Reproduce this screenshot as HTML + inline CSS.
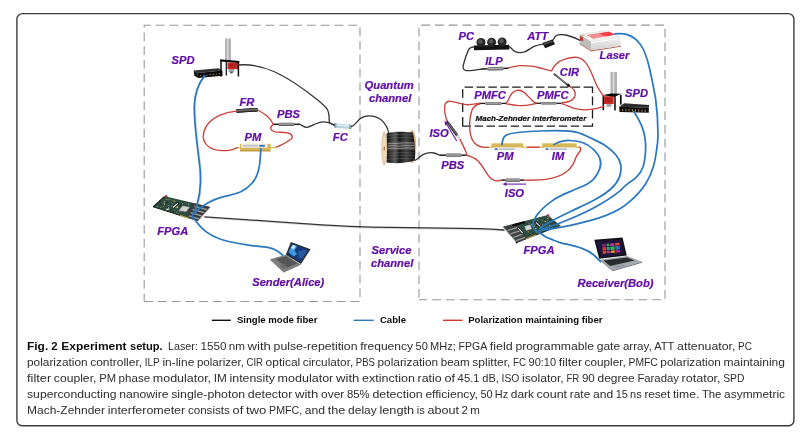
<!DOCTYPE html>
<html>
<head>
<meta charset="utf-8">
<title>Fig. 2 Experiment setup</title>
<style>
html,body{margin:0;padding:0;background:#fff;}
body{width:800px;height:434px;overflow:hidden;font-family:"Liberation Sans",sans-serif;}
svg{will-change:transform;display:block;position:absolute;left:0;top:0;}
.lab{font-family:"Liberation Sans",sans-serif;font-weight:bold;font-style:italic;font-size:11.2px;fill:#610fa5;stroke:#610fa5;stroke-width:0.2px;}
.mz{font-family:"Liberation Sans",sans-serif;font-weight:bold;font-style:italic;font-size:7.98px;fill:#0c0c0c;stroke:#0c0c0c;stroke-width:0.22px;}
.leg{font-family:"Liberation Sans",sans-serif;font-weight:bold;font-size:9.6px;fill:#0d0d0d;}
.cap{font-family:"Liberation Sans",sans-serif;font-size:11.6px;fill:#2e2e2e;}
.capb{font-weight:bold;fill:#0d0d0d;}
.blue{fill:none;stroke:#2b78bf;stroke-width:1.75;stroke-linecap:round;stroke-linejoin:round;}
.red{fill:none;stroke:#c9423c;stroke-width:1.35;stroke-linecap:round;stroke-linejoin:round;}
.blk{fill:none;stroke:#333;stroke-width:1.3;stroke-linecap:round;stroke-linejoin:round;}
.shadow{fill:none;stroke:#9a9a9a;stroke-opacity:0.35;stroke-width:1.3;stroke-linecap:round;}
.gdash{fill:none;stroke:#858585;stroke-width:1.2;stroke-dasharray:7.6 3.9;}
.bdash{fill:none;stroke:#222;stroke-width:1.2;stroke-dasharray:7.6 3.4;}
</style>
</head>
<body>
<svg width="800" height="434" viewBox="0 0 800 434">
<defs>
  <linearGradient id="tube" x1="0" x2="1" y1="0" y2="0">
    <stop offset="0" stop-color="#9c9c9c"/><stop offset="0.45" stop-color="#e4e4e4"/><stop offset="1" stop-color="#9a9a9a"/>
  </linearGradient>
  <linearGradient id="cyl" x1="0" x2="0" y1="0" y2="1">
    <stop offset="0" stop-color="#555"/><stop offset="0.42" stop-color="#b4b4b4"/><stop offset="1" stop-color="#444"/>
  </linearGradient>
  <linearGradient id="cylk" x1="0" x2="0" y1="0" y2="1">
    <stop offset="0" stop-color="#222"/><stop offset="0.4" stop-color="#777"/><stop offset="1" stop-color="#111"/>
  </linearGradient>
  <linearGradient id="spoolg" x1="0" x2="1" y1="0" y2="0">
    <stop offset="0" stop-color="#111"/><stop offset="0.3" stop-color="#5a5a5a"/><stop offset="0.45" stop-color="#1a1a1a"/><stop offset="0.7" stop-color="#444"/><stop offset="1" stop-color="#0c0c0c"/>
  </linearGradient>
  <linearGradient id="lasf" x1="0" x2="0" y1="0" y2="1"><stop offset="0" stop-color="#f4f4f4"/><stop offset="1" stop-color="#cfcfcf"/></linearGradient>
</defs>

<!-- outer frame -->
<rect x="16.9" y="13.65" width="777" height="412.15" rx="5.6" ry="5.6" fill="#fff" stroke="#3c3c3c" stroke-width="1.4"/>

<!-- dashed boxes -->
<path d="M144.2,301.5 V25.3 H360 V301.5 H144.2" fill="none" stroke="#979797" stroke-width="1.08" stroke-dasharray="8.75 5" stroke-dashoffset="1"/>
<path d="M419,299.8 V25.1 H665 V299.8 H419" fill="none" stroke="#979797" stroke-width="1.08" stroke-dasharray="8.75 5" stroke-dashoffset="11.8"/>
<path d="M464.6,87.2 H473.1 M476.5,87.2 H485.0 M488.4,87.2 H496.9 M500.3,87.2 H508.8 M512.2,87.2 H520.7 M524.1,87.2 H532.6 M536.0,87.2 H544.5 M547.9,87.2 H556.4 M559.8,87.2 H568.3 M571.7,87.2 H580.2 M583.6,87.2 H592.1 M462.6,126.15 H471.0 M474.6,126.15 H483.0 M486.6,126.15 H495.0 M498.7,126.15 H507.1 M510.7,126.15 H519.1 M522.7,126.15 H531.1 M534.7,126.15 H543.1 M546.7,126.15 H555.1 M558.8,126.15 H567.2 M570.8,126.15 H579.2 M582.8,126.15 H592.5 M462.7,89.3 V97.8 M462.7,103.1 V112.1 M462.7,116.9 V126.8 M592.5,86.6 V92.9 M592.5,96.6 V105.2 M592.5,109.2 V118.4 M592.5,123.2 V126.8" fill="none" stroke="#1d1d1d" stroke-width="1.3"/>

<g id="devices">
<!-- Alice SPD + cryostat -->
<polygon points="193.6,70.6 218.4,68.3 222.4,70.4 197.6,73.0" fill="#303030"/>
<polygon points="193.6,70.6 197.6,73.0 198.1,78.1 194.4,75.7" fill="#141414"/>
<polygon points="197.6,73.0 222.4,70.4 222.6,75.7 198.1,78.1" fill="#0b0b0b"/>
<circle cx="200.8" cy="75.6" r="0.6" fill="#c8a04a"/>
<circle cx="203.9" cy="75.3" r="0.6" fill="#c8a04a"/>
<circle cx="207.0" cy="75.0" r="0.6" fill="#c8a04a"/>
<circle cx="210.1" cy="74.7" r="0.6" fill="#c8a04a"/>
<circle cx="213.2" cy="74.4" r="0.6" fill="#c8a04a"/>
<circle cx="216.3" cy="74.0" r="0.6" fill="#c8a04a"/>
<circle cx="219.4" cy="73.7" r="0.6" fill="#c8a04a"/>
<rect x="225.1" y="38.4" width="5.7" height="22" fill="url(#tube)"/>
<path d="M226.9,39 V59.6 M229.1,39 V59.6" stroke="#9a9a9a" stroke-width="0.4"/>
<path d="M226.3,61 V75.4" stroke="#0a0a0a" stroke-width="1.2"/>
<rect x="228.6" y="69" width="5.6" height="3.3" fill="#a9a9a9"/>
<rect x="230.2" y="71.6" width="2.4" height="1.8" fill="#555"/>
<rect x="227.5" y="62.5" width="10.5" height="6.7" fill="#cb2926"/>
<path d="M229.6,64.3 H236 M229.6,65.7 H236 M229.6,67.1 H236" stroke="#7e1614" stroke-width="0.55"/>
<polygon points="220.2,59.3 239.3,61.1 239.3,63 220.2,61.5" fill="#0a0a0a"/>
<path d="M221,60.6 V76.6 M238.4,62.4 V76.6" stroke="#0a0a0a" stroke-width="1.5"/>
<!-- FR / PBS / PM / FC (Alice) -->
<g transform="rotate(-3.40 247.0 110.3)"><rect x="236.3" y="108.55" width="21.4" height="3.50" fill="#222"/><rect x="236.3" y="108.55" width="21.4" height="3.50" rx="0.8" fill="url(#cylk)"/></g>
<g><rect x="273.0" y="123.55" width="26.9" height="1.50" fill="#1c1c1c"/><rect x="278.7" y="122.65" width="15.5" height="3.30" rx="0.8" fill="url(#cyl)"/></g>
<rect x="237.3" y="147.0" width="3.7" height="1.3" fill="#dcc24a"/>
<rect x="269.6" y="147.0" width="6.6" height="1.3" fill="#dcc24a"/>
<rect x="240.0" y="143.9" width="30.6" height="7.4" fill="#d6b458"/>
<rect x="241.0" y="144.2" width="26.4" height="3.5" fill="#f3f3ef"/>
<rect x="242.6" y="145.4" width="15.9" height="1.0" fill="#97a2bd"/>
<rect x="259.3" y="144.9" width="5.6" height="1.9" fill="#3f76c8"/>
<rect x="240.0" y="150.4" width="30.6" height="0.9" fill="#b8903a"/>
<g transform="rotate(5.2 342.8 126.2)"><rect x="334" y="124" width="17.6" height="4.4" rx="0.8" fill="#b7d1e0"/><rect x="334" y="124" width="2.4" height="4.4" fill="#8ea6b3"/><rect x="349.2" y="124" width="2.4" height="4.4" fill="#8ea6b3"/><rect x="336.6" y="124.8" width="12.4" height="1.3" fill="#e4eff5"/></g>
<g id="fpgaA">
<polygon points="164.8,196.2 210.3,207.0 197.7,221.0 153.1,206.8" fill="#2c4d3f"/>
<path d="M153.1,206.8 L187.9,217.9" stroke="#16241c" stroke-width="1.0" fill="none"/>
<rect x="171.6" y="200.7" width="1.3" height="0.7" fill="#c9b25a"/><rect x="184.1" y="203.1" width="1.3" height="0.7" fill="#55705f"/><rect x="169.6" y="199.4" width="1.0" height="0.7" fill="#8f9a92"/><rect x="163.3" y="201.7" width="1.3" height="0.7" fill="#8f9a92"/><rect x="174.7" y="206.7" width="0.8" height="0.9" fill="#c9b25a"/><rect x="188.3" y="203.6" width="0.8" height="0.9" fill="#d9d9d0"/><rect x="167.6" y="199.3" width="1.0" height="0.7" fill="#c9b25a"/><rect x="172.9" y="206.9" width="1.0" height="0.7" fill="#55705f"/><rect x="176.8" y="207.1" width="1.3" height="0.7" fill="#d9d9d0"/><rect x="177.4" y="205.6" width="1.0" height="0.9" fill="#55705f"/><rect x="183.9" y="206.5" width="0.8" height="0.7" fill="#1c2a22"/><rect x="183.2" y="202.8" width="1.0" height="0.9" fill="#101410"/><rect x="179.9" y="204.5" width="0.8" height="0.7" fill="#55705f"/><rect x="167.9" y="206.9" width="0.8" height="0.9" fill="#d9d9d0"/><rect x="159.7" y="203.5" width="1.3" height="0.9" fill="#101410"/><rect x="176.1" y="207.3" width="1.3" height="0.9" fill="#c9b25a"/><rect x="176.1" y="211.8" width="1.0" height="0.7" fill="#c9b25a"/><rect x="179.8" y="204.7" width="1.3" height="0.9" fill="#101410"/><rect x="173.7" y="210.3" width="1.0" height="0.7" fill="#d9d9d0"/><rect x="167.8" y="205.1" width="1.0" height="0.7" fill="#8f9a92"/><rect x="182.4" y="203.2" width="0.8" height="0.9" fill="#d9d9d0"/><rect x="182.3" y="207.8" width="0.8" height="0.9" fill="#d9d9d0"/><rect x="169.8" y="209.1" width="1.0" height="0.9" fill="#1c2a22"/><rect x="171.7" y="203.2" width="1.0" height="0.7" fill="#8f9a92"/><rect x="165.8" y="199.2" width="1.3" height="0.7" fill="#c9b25a"/><rect x="171.1" y="205.8" width="1.0" height="0.9" fill="#c9b25a"/><rect x="163.6" y="203.0" width="1.3" height="0.9" fill="#8f9a92"/><rect x="176.8" y="206.5" width="1.3" height="0.7" fill="#d9d9d0"/><rect x="179.1" y="210.5" width="1.3" height="0.9" fill="#d9d9d0"/><rect x="173.8" y="200.7" width="1.3" height="0.9" fill="#c9b25a"/><rect x="160.3" y="207.4" width="1.0" height="0.7" fill="#c9b25a"/><rect x="172.9" y="199.9" width="0.8" height="0.7" fill="#55705f"/><rect x="164.2" y="201.2" width="0.8" height="0.7" fill="#b7a04a"/><rect x="166.6" y="202.0" width="1.3" height="0.9" fill="#101410"/><rect x="175.1" y="205.5" width="0.8" height="0.9" fill="#d9d9d0"/><rect x="173.7" y="203.2" width="0.8" height="0.7" fill="#1c2a22"/><rect x="170.9" y="201.8" width="1.3" height="0.7" fill="#55705f"/><rect x="156.6" y="205.9" width="1.3" height="0.9" fill="#8f9a92"/><rect x="172.8" y="210.4" width="1.3" height="0.9" fill="#1c2a22"/><rect x="179.1" y="209.4" width="1.0" height="0.9" fill="#8f9a92"/><rect x="171.6" y="201.5" width="1.3" height="0.9" fill="#1c2a22"/><rect x="162.7" y="206.1" width="0.8" height="0.7" fill="#b7a04a"/><rect x="167.0" y="207.3" width="0.8" height="0.9" fill="#101410"/><rect x="173.0" y="211.4" width="1.0" height="0.9" fill="#101410"/><rect x="164.0" y="204.0" width="1.0" height="0.9" fill="#b7a04a"/><rect x="177.9" y="212.9" width="1.0" height="0.7" fill="#8f9a92"/>
<polygon points="190.7,202.4 210.3,207.0 197.7,221.0 188.8,218.2 187.7,211.1 192.2,205.5" fill="#3a3b3c"/>
<path d="M194.2,206.4 L207.1,209.6" stroke="#9c9fa1" stroke-width="1.3" fill="none"/>
<path d="M192.5,209.5 L204.3,212.7" stroke="#9c9fa1" stroke-width="1.3" fill="none"/>
<path d="M190.7,212.6 L201.6,215.8" stroke="#9c9fa1" stroke-width="1.3" fill="none"/>
<path d="M189.0,215.8 L198.8,218.8" stroke="#9c9fa1" stroke-width="1.3" fill="none"/>
<path d="M210.0,207.3 L198.0,220.7" stroke="#9b9b9b" stroke-width="0.9" fill="none"/>
<path d="M179.9,215.3 L188.8,218.2" stroke="#c9a74c" stroke-width="1.1" fill="none"/>
<polygon points="182.5,205.5 190.0,206.9 186.2,212.0 178.6,210.7" fill="#8c8c8c"/>
<polygon points="182.7,206.2 189.0,207.3 186.0,211.4 179.6,210.3" fill="#d4d4d4"/>
<path d="M172.2,208 L178.6,202.6" stroke="#1a1a1a" stroke-width="2.1" fill="none"/>
<path d="M172.8,207.5 L178,203.1" stroke="#ededed" stroke-width="1.1" fill="none"/>
<path d="M166.2,209.6 L169.2,208.8" stroke="#dfe6ee" stroke-width="1.2" fill="none"/>
<circle cx="166.1" cy="196.3" r="1.25" fill="#bf2140"/>
<path d="M164.2,196.7 L153.1,206.8" stroke="#111" stroke-width="1.1" fill="none"/>
</g>
<g id="lapA">
<polygon points="270.1,259.3 285.8,254.7 301.2,264.8 283.8,272.5" fill="#7f7f7f"/>
<polygon points="270.1,259.3 283.8,272.5 284.4,273.2 270.3,260.1" fill="#4c4c4c"/>
<polygon points="275.6,259.2 286,256.2 297.6,263.6 287.4,267.4" fill="#565656"/>
<polygon points="279.4,265 283.6,263.6 287.4,267.4 283,269.2" fill="#6d6d6d"/>
<polygon points="285.8,254.7 290.9,242.1 310.6,249.2 301,263.9" fill="#2c2c30"/>
<polygon points="287.4,254.2 291.7,243.8 308.8,250 300.4,262.2" fill="#163a7a"/>
<polygon points="288.6,252 292.2,244.6 297.2,246.2 294.4,250.4 297,254 293.6,256.4" fill="#3f9be0"/>
<polygon points="291,247.6 293.2,245 296,246 293.4,249.8" fill="#c4e6fb"/>
<polygon points="297.6,251.6 304,249.6 307.2,250.8 302.4,258 299,258.6" fill="#27589f"/>
</g>
<g id="spool">
<ellipse cx="412.1" cy="146.5" rx="4.2" ry="16.5" fill="#d9bb8c"/>
<ellipse cx="412.1" cy="146.5" rx="3.1" ry="15" fill="#c39b63"/>
<path d="M386.6,133.4 C392,131.6 404,131.4 412.6,132.6 C414.6,139 415.4,152 414.8,160.6 C406,163.4 394,163.8 386.6,162.6 Z" fill="url(#spoolg)"/>
<path d="M387,142.5 C396,141 406,141 414.6,142.3 L414.9,150.5 C406,149.2 396,149.4 387,151 Z" fill="#8e8e8e" fill-opacity="0.28"/>
<path d="M388,143.6 C392,142.6 396,144.4 400,143.2 C404,142.2 409,143.6 414,142.8 M388,146 C393,145 397,147 402,145.8 C406,144.8 410,146.4 414.4,145.4 M388,148.6 C392,147.6 398,149.4 403,148.2 C407,147.4 411,148.8 414.6,148" stroke="#e6e6e6" stroke-opacity="0.55" stroke-width="0.7" fill="none"/>
<path d="M387,135.6 C396,134 406,134 413.6,135 M387,138.6 C396,137.2 406,137.2 414.2,138.2 M387,153.4 C396,152.2 406,152.2 414.8,153.2 M387,156 C396,154.8 406,154.8 414.8,155.8 M387,159.4 C396,158.4 406,158.2 414.6,158.8" stroke="#8a8a8a" stroke-opacity="0.5" stroke-width="0.6" fill="none"/>
<ellipse cx="384.2" cy="148.4" rx="2.9" ry="17.1" fill="#e3c8a0"/>
<ellipse cx="384.3" cy="148.4" rx="1.7" ry="13.6" fill="#efdcbf"/>
<ellipse cx="384.3" cy="148.4" rx="0.7" ry="2.2" fill="#9c7d55"/>
</g>
<!-- PC -->
<polygon points="473.8,45.6 509.2,44.8 509.4,49.6 474,50.2" fill="#131313"/>
<circle cx="481" cy="42.5" r="4.5" fill="#262626"/><circle cx="491.6" cy="42.2" r="4.5" fill="#262626"/><circle cx="502.1" cy="41.9" r="4.5" fill="#262626"/>
<circle cx="480.4" cy="41.5" r="2.3" fill="#565656"/><circle cx="491" cy="41.2" r="2.3" fill="#565656"/><circle cx="501.5" cy="40.9" r="2.3" fill="#565656"/>
<!-- ATT -->
<polygon points="542.3,43 552.4,39.6 555,44.3 545.2,48.3" fill="#181818"/>
<polygon points="543.5,43.3 551.8,40.5 552.7,42 544.4,44.9" fill="#4a4a4a"/>
<!-- ILP -->
<g transform="rotate(-1.40 495.2 68.7)"><rect x="481.8" y="67.95" width="26.8" height="1.50" fill="#1c1c1c"/><rect x="487.2" y="67.00" width="16.2" height="3.40" rx="0.8" fill="url(#cyl)"/></g>
<!-- CIR -->
<path d="M553.8,73.8 L569.4,86.2" stroke="#454545" stroke-width="1.8" fill="none"/>
<path d="M556,75.6 L566,83.4" stroke="#a2a2a2" stroke-width="0.7" fill="none"/>
<polygon points="571,87.6 566.4,86 568.9,83.3" fill="#1c1c1c"/>
<g id="laser">
<polygon points="579.8,42.9 590.9,50.3 620.9,45.7 621.4,46.8 591,51.6 579.4,43.9" fill="#b8705c"/>
<polygon points="579.4,34.6 606.1,30.5 620.9,37.4 591.4,42" fill="#f1f1f1" stroke="#c4c4c4" stroke-width="0.4"/>
<polygon points="579.4,34.6 591.4,42 590.9,50.3 579.8,42.9" fill="#bcbcbc"/>
<polygon points="591.4,42 620.9,37.4 620.9,45.7 590.9,50.3" fill="url(#lasf)"/>
<polygon points="591.4,42 620.9,37.4 620.9,38.6 591.4,43.3" fill="#fafafa"/>
<polygon points="586.8,35.1 608.9,31.8 615.4,34.6 593.2,38.8" fill="#ee6f74"/>
<polygon points="599.6,33.2 608.9,31.8 615.4,34.6 606,36.4" fill="#f2414a"/>
<path d="M588.6,35.6 L599,34 M590.2,36.5 L600.6,34.9 M591.8,37.4 L602.2,35.8 M593.4,38.2 L603.8,36.6" stroke="#f9c4c4" stroke-width="0.45" fill="none"/>
<polygon points="580.1,35.8 583.1,37.6 583.1,41.6 580.1,39.8" fill="#c8352f"/>
<polygon points="581,34.9 583.6,34.5 584.6,35.2 582,35.7" fill="#d6b13c"/>
</g>
<!-- Bob cryostat + SPD -->
<rect x="610.6" y="71.9" width="6.2" height="23" fill="url(#tube)"/>
<path d="M612.6,72.4 V94 M614.8,72.4 V94" stroke="#9a9a9a" stroke-width="0.4"/>
<path d="M620.8,95 V104.6" stroke="#0a0a0a" stroke-width="1.7"/>
<rect x="606.5" y="103.8" width="5" height="3" fill="#a9a9a9"/>
<rect x="602.9" y="96.2" width="10.8" height="7.8" fill="#cb2926"/>
<path d="M605,98.2 H611.6 M605,99.8 H611.6 M605,101.4 H611.6" stroke="#7e1614" stroke-width="0.55"/>
<polygon points="602.4,95.2 610.8,93.4 621.8,93.8 614.4,96.8" fill="#0a0a0a"/>
<path d="M603.3,95.6 V110.2 M615,96 V110.6" stroke="#0a0a0a" stroke-width="1.5"/>
<polygon points="619.2,106.8 624.2,103.3 649.2,105 648.8,107.8" fill="#2c2c2c"/>
<polygon points="619.2,106.8 648.8,107.8 648.8,112.8 619.6,112.1" fill="#0b0b0b"/>
<rect x="622.3" y="108.7" width="0.9" height="2.6" fill="#b08f48"/>
<rect x="625.5" y="108.8" width="0.9" height="2.6" fill="#b08f48"/>
<rect x="628.7" y="108.9" width="0.9" height="2.6" fill="#b08f48"/>
<rect x="631.9" y="109.0" width="0.9" height="2.6" fill="#b08f48"/>
<rect x="635.1" y="109.1" width="0.9" height="2.6" fill="#b08f48"/>
<rect x="638.3" y="109.2" width="0.9" height="2.6" fill="#b08f48"/>
<rect x="641.5" y="109.3" width="0.9" height="2.6" fill="#b08f48"/>
<rect x="644.7" y="109.4" width="0.9" height="2.6" fill="#b08f48"/>
<!-- PMFC1 / PMFC2 -->
<g><rect x="479.6" y="102.75" width="26.9" height="1.30" fill="#1c1c1c"/><rect x="485.0" y="102.15" width="16.6" height="2.50" rx="0.8" fill="url(#cyl)"/></g>
<g><rect x="535.7" y="102.65" width="25.8" height="1.30" fill="#1c1c1c"/><rect x="540.8" y="102.05" width="15.9" height="2.50" rx="0.8" fill="url(#cyl)"/></g>
<!-- ISO diagonal -->
<g transform="rotate(54.5 453.55 130.35)">
<rect x="442" y="129.45" width="23.1" height="1.8" fill="#1c1c1c"/>
<rect x="444.6" y="129.05" width="15" height="2.6" rx="0.8" fill="url(#cylk)"/>
<rect x="459.6" y="129.25" width="5.5" height="2.2" fill="#d9d9d9"/>
</g>
<path d="M456.8,140.9 L445.6,122.4" stroke="#6410a8" stroke-width="1.05" fill="none"/>
<polygon points="444.5,120.6 448.1,123.9 445.2,125.6" fill="#6410a8"/>
<!-- PBS bob -->
<g><rect x="439.9" y="154.45" width="26.7" height="1.50" fill="#1c1c1c"/><rect x="445.8" y="153.55" width="15.9" height="3.30" rx="0.8" fill="url(#cyl)"/></g>
<!-- ISO horizontal -->
<g><rect x="501.3" y="179.35" width="22.8" height="1.50" fill="#1c1c1c"/><rect x="505.3" y="178.45" width="14.8" height="3.30" rx="0.8" fill="url(#cyl)"/></g>
<path d="M526.1,184.1 L505,184.1" stroke="#6410a8" stroke-width="1.05" fill="none"/>
<polygon points="502.5,184.1 506.4,182.3 506.4,185.9" fill="#6410a8"/>
<!-- PM / IM bob -->
<rect x="488.2" y="146.6" width="4.2" height="1.3" fill="#dcc24a"/>
<rect x="522.1" y="146.6" width="4.8" height="1.3" fill="#dcc24a"/>
<rect x="491.4" y="143.5" width="31.7" height="4.4" fill="#d6b458"/>
<rect x="491.4" y="143.5" width="31.7" height="0.9" fill="#e1c46a"/>
<rect x="493.4" y="147.4" width="28.7" height="3.3" fill="#f3f3ef"/>
<rect x="498.9" y="148.6" width="15.9" height="1.0" fill="#97a2bd"/>
<rect x="494.8" y="148.2" width="2.8" height="1.7" fill="#3f76c8"/>
<rect x="539.8" y="146.6" width="3.4" height="1.3" fill="#dcc24a"/>
<rect x="575.6" y="146.6" width="3.6" height="1.3" fill="#dcc24a"/>
<rect x="542.2" y="143.5" width="34.4" height="4.4" fill="#d6b458"/>
<rect x="542.2" y="143.5" width="34.4" height="0.9" fill="#e1c46a"/>
<rect x="544.2" y="147.4" width="31.4" height="3.3" fill="#f3f3ef"/>
<rect x="549.7" y="148.6" width="17.2" height="1.0" fill="#97a2bd"/>
<rect x="545.6" y="148.2" width="2.8" height="1.7" fill="#3f76c8"/>
<g id="fpgaB">
<polygon points="503.1,226.8 547.7,215.1 560.4,225.5 516.8,242.5" fill="#2c4d3f"/>
<rect x="526.5" y="228.6" width="1.0" height="0.7" fill="#d9d9d0"/><rect x="546.1" y="228.0" width="0.8" height="0.9" fill="#1c2a22"/><rect x="535.3" y="228.2" width="1.3" height="0.7" fill="#d9d9d0"/><rect x="549.0" y="225.0" width="1.0" height="0.7" fill="#d9d9d0"/><rect x="544.8" y="221.0" width="1.3" height="0.9" fill="#d9d9d0"/><rect x="540.2" y="230.8" width="1.3" height="0.7" fill="#8f9a92"/><rect x="547.5" y="216.6" width="1.3" height="0.9" fill="#b7a04a"/><rect x="543.9" y="224.9" width="1.3" height="0.9" fill="#1c2a22"/><rect x="547.2" y="218.2" width="1.3" height="0.7" fill="#c9b25a"/><rect x="529.5" y="235.2" width="1.3" height="0.7" fill="#55705f"/><rect x="541.6" y="219.6" width="0.8" height="0.7" fill="#c9b25a"/><rect x="528.9" y="225.3" width="0.8" height="0.9" fill="#101410"/><rect x="543.1" y="228.2" width="0.8" height="0.9" fill="#d9d9d0"/><rect x="546.3" y="226.8" width="1.3" height="0.9" fill="#b7a04a"/><rect x="550.3" y="221.4" width="1.3" height="0.7" fill="#55705f"/><rect x="542.6" y="228.9" width="0.8" height="0.7" fill="#b7a04a"/><rect x="543.4" y="219.5" width="1.0" height="0.7" fill="#55705f"/><rect x="527.7" y="231.4" width="1.3" height="0.9" fill="#b7a04a"/><rect x="550.2" y="226.3" width="0.8" height="0.7" fill="#8f9a92"/><rect x="534.8" y="230.3" width="1.3" height="0.9" fill="#55705f"/><rect x="529.0" y="234.2" width="0.8" height="0.9" fill="#101410"/><rect x="541.5" y="224.3" width="1.3" height="0.7" fill="#1c2a22"/><rect x="532.0" y="227.4" width="1.0" height="0.7" fill="#1c2a22"/><rect x="542.9" y="228.8" width="1.0" height="0.7" fill="#b7a04a"/><rect x="535.9" y="224.9" width="1.0" height="0.9" fill="#101410"/><rect x="523.2" y="226.3" width="0.8" height="0.7" fill="#1c2a22"/><rect x="528.5" y="223.1" width="0.8" height="0.9" fill="#8f9a92"/><rect x="527.3" y="223.7" width="1.0" height="0.7" fill="#1c2a22"/><rect x="550.2" y="220.2" width="1.0" height="0.7" fill="#1c2a22"/><rect x="544.2" y="219.1" width="1.0" height="0.9" fill="#101410"/><rect x="534.5" y="224.5" width="0.8" height="0.9" fill="#c9b25a"/><rect x="533.2" y="226.3" width="1.3" height="0.7" fill="#d9d9d0"/><rect x="534.8" y="228.1" width="1.3" height="0.7" fill="#c9b25a"/><rect x="555.2" y="223.3" width="0.8" height="0.7" fill="#101410"/><rect x="536.1" y="231.7" width="0.8" height="0.9" fill="#b7a04a"/><rect x="526.8" y="227.8" width="1.3" height="0.9" fill="#d9d9d0"/><rect x="532.8" y="233.2" width="1.3" height="0.9" fill="#1c2a22"/><rect x="530.9" y="224.5" width="1.3" height="0.7" fill="#d9d9d0"/><rect x="547.2" y="219.5" width="0.8" height="0.7" fill="#b7a04a"/><rect x="532.6" y="228.7" width="0.8" height="0.7" fill="#101410"/><rect x="548.2" y="221.5" width="1.0" height="0.9" fill="#101410"/><rect x="536.9" y="219.7" width="1.3" height="0.7" fill="#c9b25a"/><rect x="549.2" y="218.8" width="0.8" height="0.7" fill="#101410"/><rect x="542.3" y="224.4" width="0.8" height="0.9" fill="#d9d9d0"/><rect x="534.8" y="222.0" width="1.0" height="0.7" fill="#101410"/><rect x="519.7" y="224.1" width="1.3" height="0.7" fill="#55705f"/><rect x="542.2" y="229.9" width="0.8" height="0.9" fill="#1c2a22"/><rect x="541.7" y="228.7" width="1.0" height="0.9" fill="#1c2a22"/><rect x="527.2" y="225.0" width="0.8" height="0.7" fill="#d9d9d0"/><rect x="557.3" y="224.9" width="0.8" height="0.7" fill="#c9b25a"/><rect x="545.9" y="227.8" width="1.0" height="0.7" fill="#c9b25a"/><rect x="530.1" y="233.0" width="1.3" height="0.9" fill="#55705f"/>
<path d="M516.8,242.5 L560.4,225.5" stroke="#16241c" stroke-width="0.9" fill="none"/>
<polygon points="503.1,226.8 516.5,223.3 522.3,230.6 526.4,238.8 516.8,242.5" fill="#3f4341"/>
<path d="M507.4,230.5 L517.8,227.4" stroke="#9c9fa1" stroke-width="1.3" fill="none"/>
<path d="M510.4,233.9 L520.2,230.7" stroke="#9c9fa1" stroke-width="1.3" fill="none"/>
<path d="M513.4,237.3 L522.6,234.1" stroke="#9c9fa1" stroke-width="1.3" fill="none"/>
<path d="M516.3,240.6 L524.9,237.4" stroke="#9c9fa1" stroke-width="1.3" fill="none"/>
<path d="M503.6,227.4 L516.5,242.2" stroke="#9b9b9b" stroke-width="0.9" fill="none"/>
<path d="M512.4,225.5 L524.9,222.1" stroke="#0c0c0c" stroke-width="2.2" fill="none"/>
<path d="M526.4,238.8 L536.0,235.0" stroke="#c9a74c" stroke-width="1.1" fill="none"/>
<polygon points="524.2,226.2 530.4,224.4 532.2,229 526,231" fill="#8c8c8c"/>
<polygon points="524.9,226.5 530,225 531.4,228.7 526.4,230.3" fill="#d6d6d6"/>
<path d="M517.6,227.4 L523.2,233.8" stroke="#1a1a1a" stroke-width="2.1" fill="none"/>
<path d="M518.1,228 L522.7,233.2" stroke="#ededed" stroke-width="1.1" fill="none"/>
<path d="M535.4,221.8 L541,227.2" stroke="#1a1a1a" stroke-width="2.1" fill="none"/>
<path d="M535.9,222.3 L540.5,226.7" stroke="#ededed" stroke-width="1.1" fill="none"/>
<circle cx="548.1" cy="215.5" r="1.25" fill="#bf2140"/>
<circle cx="516.6" cy="242.6" r="0.9" fill="#111"/>
</g>
<g id="lapB">
<polygon points="599.8,259.7 627.3,256 642.1,261.8 612.5,270.3" fill="#a2a8ae"/>
<polygon points="599.8,259.7 612.5,270.3 612.7,271.2 599.9,260.6" fill="#5d6166"/>
<polygon points="612.5,270.3 642.1,261.8 642.1,262.7 612.7,271.2" fill="#70757a"/>
<polygon points="603.4,260.6 627,257.4 634.6,260.6 610.2,266" fill="#2b2b2e"/>
<polygon points="613.6,266.6 622.6,264.4 625.4,265.6 616.4,268" fill="#8d9399"/>
<polygon points="594.3,239.7 622.5,237.6 626.8,255.4 599.2,258.8" fill="#121216"/>
<polygon points="596.3,241.3 621.3,239.4 625,254.3 600.5,257.2" fill="#21153c"/>
<g transform="rotate(-4.5 611 248)">
<rect x="602.4" y="243.4" width="3.6" height="2.6" fill="#7a2a7a"/>
<rect x="602.4" y="246.6" width="3.6" height="3.4" fill="#d63a3a"/>
<rect x="602.4" y="250.6" width="3.6" height="2.4" fill="#e0532c"/>
<rect x="606.8" y="243.4" width="2.8" height="2.6" fill="#36a64a"/>
<rect x="606.8" y="246.6" width="2.8" height="3.4" fill="#2f9e8f"/>
<rect x="606.8" y="250.6" width="2.8" height="2.4" fill="#c43a8c"/>
<rect x="610.4" y="243.4" width="4.2" height="2.6" fill="#b03aa0"/>
<rect x="610.4" y="246.6" width="4.2" height="3.4" fill="#3ab54a"/>
<rect x="610.4" y="250.6" width="4.2" height="2.4" fill="#e39a24"/>
<rect x="615.4" y="243.4" width="4.4" height="2.6" fill="#d8452e"/>
<rect x="615.4" y="246.6" width="4.4" height="3.4" fill="#2f73c9"/>
<rect x="615.4" y="250.6" width="4.4" height="2.4" fill="#b0308c"/>
</g>
</g>
</g>
</g>
</g>
</g>
</g>
</g>
</g>
</g>
</g>
</g>

<g id="fibers">
<!-- black single-mode fibers -->
<path class="blk" d="M237.5,65 C250,64 262,66 275,72 C290,79 304,89 317.7,100 C322.6,104 326,107 327.6,110 C329.4,113.6 329,118 329.2,121.2 C329.4,123 331.8,124.2 334.2,124.6"/>
<path class="blk" d="M299.8,124.4 C302.4,125.2 304,127.4 306.6,127.3 C309.6,127.2 312,125.4 314.5,124.4 C317.4,123.2 320,121.8 322.8,121.9 C325.4,122 327.4,122.4 329.2,122.8 C331,123.2 332.6,124.6 334.2,125.2"/>
<path class="blk" d="M351.4,126.6 C355,125.6 357,121.4 360,118.8 C363,116.4 366,115.8 369,115.8 C374,115.9 378.6,117.4 381.8,120.4 C385,123.4 387.8,127.6 388.6,133"/>
<path class="blk" d="M415.4,160.2 C418,158.6 420,156.2 423,154.6 C427,152.6 431,152.4 434,153 C436.4,153.5 438,154.8 440,155.2"/>
<path class="shadow" d="M204.8,217.7 C230,219.6 260,221.4 300,224.3 C330,226.4 350,227.6 372,228 C410,228.6 450,228.9 480,229.5 C490,229.8 498,230.4 504,230.9"/>
<path class="blk" d="M204.8,216.8 C230,218.7 260,220.5 300,223.4 C330,225.5 350,226.7 372,227.1 C410,227.7 450,228 480,228.6 C490,228.9 498,229.5 504,230"/>
<path class="blk" d="M473.9,46.8 C471.6,46.9 469.8,47.4 468.6,49.6 C466.8,53.4 464.6,60 463.3,65 C462.6,68 463.4,70.2 466.2,70.6 C471,71.1 476.6,69.9 481.9,69"/>
<path class="blk" d="M509.2,46.6 C511.4,47.6 512.6,50.4 515.1,51.6 C518.2,52.9 521.6,52.8 524.6,51.8 C528.2,50.5 531,47.8 534.6,46.2 C537.2,45.1 540,44.7 542.8,44.2"/>
<path class="blk" d="M552.6,41 C553.8,39.2 554,37 556,35.7 C558.4,34.2 562.6,34.4 566,35 C571,36 576,38.4 580.2,40.3"/>

<!-- red PM fibers : Alice -->
<path class="red" d="M236.3,111.2 C230,111.8 224,113.4 219,115.6 C211,119.2 205.6,125.5 203.8,132 C202.4,138 204,143.5 209,147 C214,150.3 222,151.2 229,150.3 C232.6,149.8 235.4,148.4 237.5,147.6"/>
<path class="red" d="M257.6,110 C261,111.6 264.6,114 267.4,116.3 C270,118.6 271.8,121.4 273,123.8"/>
<path class="red" d="M273,124.8 C271.4,125.8 270.4,127.6 270.9,129 C271.6,130.8 273,131.5 275,131.8 C278.4,132.2 282,132.2 285.2,132.5 C288,132.8 290.4,133.4 291.6,135 C293,136.9 292,138.6 290.1,139.8 C287.6,141.6 284.6,143.4 282,144.6 C280,145.6 278,146.4 276.2,147.1"/>

<!-- red PM fibers : Bob -->
<path class="red" d="M508.6,67.8 C512.4,67 516,65.9 520,65.7 C524.4,65.5 528,65.8 531.4,66.2 C535.6,66.8 539,67.8 542.8,68.6 C546,69.3 549,70.4 551.6,70.9 C552.6,68.6 554,66.4 555.8,64.6 C558.4,61.9 561.6,60 565.5,58.9 C569.2,57.8 573,56.9 576.9,57.3 C581.6,57.8 585.4,61.6 588,66 C591.6,72 594.2,80.4 597.6,87 C600,91.5 602,94.5 604.4,97"/>
<path class="red" d="M561.4,103 C565,102.6 569.4,101.8 572.4,99.6 C575.2,97.5 576,93.6 574.4,90.6 C573.4,88.8 571.6,87.6 570.4,86.8"/>
<path class="red" d="M561.4,103.7 C565.6,104.6 569.6,107 574.2,108.4 C580.6,110.2 590,110 597,108.4 C600,107.7 602,106.9 604,106.2"/>
<path class="red" d="M506.4,103 C508.6,100.4 509.6,96 512.2,93 C514.8,90 519.2,89.4 522.6,91.4 C527,94 529.6,98.4 533,101.2 C533.9,102 534.8,102.6 535.8,103"/>
<path class="red" d="M506.4,103.8 C510.6,104.4 514.8,105.4 519,105.6 C523.4,105.8 527.4,105.4 531,104.6 C532.8,104.2 534.4,103.8 535.8,103.5"/>
<path class="red" d="M479.8,103.2 C476,103.8 471,104.9 466.4,104.7 C460.6,104.4 455.4,101.5 450.4,101.3 C446.8,101.2 445.1,103 444.7,106 C444.3,110 444.7,114 446,118 C446.5,119.5 446.9,120.2 447.3,120.9"/>
<path class="red" d="M479.8,104 C476.6,104.6 473.4,106.6 472,110 C470,116 469.2,124 469.9,131 C470.6,137 472.6,142 476.6,144.9 C479.8,147.2 484.4,147.5 488.2,147.2"/>
<path class="red" d="M460.3,139.9 C462,143.4 464,147.4 465.4,150.6 C466.2,152.4 466.7,153.8 466.9,155"/>
<path class="red" d="M466.5,155.3 C470.4,156.2 473.6,157.2 476.6,159.6 C481,163.2 484,169.4 488,175.2 C490.4,178.6 493,180.6 496.4,180.8 C498.2,180.9 499.8,180.5 501.4,180.3"/>
<path class="red" d="M524,180.1 C531,180.3 539,180.3 546,179.4 C554,178.3 561,176 566.5,171.8 C571,168.3 574,163.5 575.5,158.5 C576.6,154.8 579.4,152.4 580.4,150.4 C581.2,148.6 580.6,147.4 579.2,147.2"/>
<path d="M526.9,147.2 L539.8,147.2" stroke="#d8504a" stroke-width="1.7" fill="none"/>
</g>

<g id="cables">
<!-- blue cables : Alice -->
<path class="shadow" d="M205.4,76 C199,84 195.5,95 195.2,106 C195,125 199,150 201.2,170 C202.3,185 200.8,200 194.8,213.8"/>
<path class="blue" d="M204.6,75.6 C198,84 194.6,95 194.3,106 C194,125 198,150 200.2,170 C201.3,185 199.8,200 193.8,213.8"/>
<path class="blue" d="M260.8,148.8 C260.6,156 260.2,163.4 258.5,170.3 C257.2,175.6 255.2,179.6 252.2,183 C249,186.8 245,189.8 240.8,191.8 C235,194.4 229,195.4 223,196.9 C216.6,198.6 210.6,201 205.3,204.5 C200.4,207.6 196,211 192.6,214.6"/>
<path class="blue" d="M192.4,216.2 C195.6,221 199.6,226.6 205.3,231.1 C210.6,235.2 216.6,238 223,240 C231,242.4 240,243.8 248.4,245.1 C255,246.1 262,246.4 268.6,247.6 C274,248.6 279,251.6 282.6,255.2"/>
<!-- blue cables : Bob -->
<path class="blue" d="M502,144.6 C502.2,140.6 503,136.8 506.4,135 C512,132.2 524,131.6 540,131 C550,130.6 560,130.4 570,131.1 C576,131.6 582,133.6 587,136.2 C593,139.2 599,141.6 604,144.7 C608.6,147.6 612.8,151 616,155 C618.6,158.2 620.2,161.6 620.8,165.2 C621.4,169.2 620.8,173.2 619.4,177.1 C617.6,181.6 614.6,185.6 610.9,189 C606.4,193 601,196.4 595.6,199.3 C588,203.4 580,207 572.5,210.6 C564,214.6 555,218.8 549,222.6 C545,225 542,227 540,228.2"/>
<path class="blue" d="M553.8,144.6 C556.6,142.6 560,141.4 564,140.8 C566,140.5 568,140.4 570,140.5 C574.6,140.7 579.4,141.4 583.6,143 C587.6,144.6 591,147 593.9,149.9 C596.4,152.4 598.6,155.2 599.8,158.4 C601,161.6 601,165.2 599.8,168.6 C598.6,172.4 596.6,175.8 593.9,178.8 C590.2,182.6 585.4,185.2 580.2,187.3 C576.8,188.8 573.4,190.2 570,191.6 C563.6,194.2 557.4,197 552.5,200.6 C546,205.2 540.2,210.2 536.6,215.6 C534.2,219.2 532.6,223 533,226.6 C533.2,228.4 534.2,229.6 535.6,230.6"/>
<path class="blue" d="M633.8,111.4 C636.4,115.6 639.4,120.4 641.6,125.6 C644.6,133 646,142 645.6,150 C645.2,157 644.6,162 643,167 C641.4,171.6 639,174.8 636.2,177.3 C633.6,179.8 631.4,181 629.4,182.4 C626,185 623,187.8 620,190.9 C612,197.4 603,203 592.6,208.6 C582,214.2 570.6,219 560,223 C553,225.6 546.4,228 541.4,229.6"/>
<path class="blue" d="M615,33.8 C619.6,33.4 624,33.4 628,34.8 C633.6,36.8 638,40.6 641.2,45.6 C645.2,51.8 647.4,59.4 649.2,67 C651.6,77.4 653.8,88 655.6,98.6 C657.2,110.4 658,122.4 658,134.4 C658,140 657.4,145 656.6,150 C655.8,156 654.8,162 653.2,167 C651.4,173 648.8,179 645.5,184 C641.4,190.4 636.2,196 630.2,201.1 C627,204 623.6,206.6 620,208.8 C610.6,214.4 600,218 589.9,220.7 C582,222.8 574.6,224.6 566.9,226.2 C560.6,227.5 554.4,228.6 548.4,229.4 C545,229.9 542,230.2 539.2,230.3"/>
<path class="blue" d="M535.6,230.6 C536.8,231.4 538,232 539.2,232.6 C541.2,233.8 543,235.2 545,236.4 C547.6,237.8 550.4,238.9 553,240 C555.4,241 557.6,241.9 560,242.6 C562.4,243.3 564.6,243.8 566.9,244.2 C572,245.4 577.6,246.8 582.5,248.6 C587,250.2 590.8,252.4 593.8,255 C596.2,257.2 598.6,259.6 600.5,261.6"/>
</g>

</g>
</g>

<g id="labels">
<text class="lab" x="171.6" y="64.2">SPD</text>
<text class="lab" x="239.4" y="106">FR</text>
<text class="lab" x="277" y="117.9">PBS</text>
<text class="lab" x="244.6" y="140.8">PM</text>
<text class="lab" x="332.8" y="140.6">FC</text>
<text class="lab" x="157.2" y="235">FPGA</text>
<text class="lab" x="252.2" y="285.7">Sender(Alice)</text>
<text class="lab" x="364.6" y="88.6">Quantum</text>
<text class="lab" x="369" y="102.4">channel</text>
<text class="lab" x="371.6" y="254.4">Service</text>
<text class="lab" x="371" y="267.4">channel</text>
<text class="lab" x="458.6" y="39.7">PC</text>
<text class="lab" x="527.2" y="39.7">ATT</text>
<text class="lab" x="485.2" y="65.4">ILP</text>
<text class="lab" x="559.8" y="76.2">CIR</text>
<text class="lab" x="599.6" y="59.2">Laser</text>
<text class="lab" x="625" y="97.3">SPD</text>
<text class="lab" x="474.2" y="99.1">PMFC</text>
<text class="lab" x="537" y="99.1">PMFC</text>
<text class="lab" x="429.4" y="136.7">ISO</text>
<text class="lab" x="441.2" y="169">PBS</text>
<text class="lab" x="496.8" y="159.9">PM</text>
<text class="lab" x="551.8" y="160.1">IM</text>
<text class="lab" x="504.8" y="196.7">ISO</text>
<text class="lab" x="523.4" y="254">FPGA</text>
<text class="lab" x="577.6" y="287.4">Receiver(Bob)</text>
<text class="mz" x="475.6" y="121.2">Mach-Zehnder interferometer</text>
</g>

<g id="legend">
<path d="M211.8,320.3 L230.8,320.3" stroke="#111" stroke-width="1.4"/>
<text class="leg" x="236.9" y="323.4">Single mode fiber</text>
<path d="M353.6,320.3 L373.8,320.3" stroke="#2b78bf" stroke-width="1.4"/>
<text class="leg" x="379.9" y="323.4">Cable</text>
<path d="M443,320.3 L462.6,320.3" stroke="#d3382e" stroke-width="1.4"/>
<text class="leg" x="468.2" y="323.4">Polarization maintaining fiber</text>
</g>

<g id="caption">
<text class="cap capb" x="27.0" y="349.8" textLength="21.2" lengthAdjust="spacingAndGlyphs">Fig.</text>
<text class="cap capb" x="51.3" y="349.8" textLength="6.3" lengthAdjust="spacingAndGlyphs">2</text>
<text class="cap capb" x="61.3" y="349.8" textLength="65.3" lengthAdjust="spacingAndGlyphs">Experiment</text>
<text class="cap capb" x="130.0" y="349.8" textLength="32.6" lengthAdjust="spacingAndGlyphs">setup.</text>
<text class="cap" x="168.0" y="349.8" textLength="29.9" lengthAdjust="spacingAndGlyphs">Laser:</text>
<text class="cap" x="200.6" y="349.8" textLength="44.4" lengthAdjust="spacingAndGlyphs">1550&#8239;nm</text>
<text class="cap" x="247.6" y="349.8" textLength="23.3" lengthAdjust="spacingAndGlyphs">with</text>
<text class="cap" x="273.6" y="349.8" textLength="83.9" lengthAdjust="spacingAndGlyphs">pulse-repetition</text>
<text class="cap" x="360.2" y="349.8" textLength="52.8" lengthAdjust="spacingAndGlyphs">frequency</text>
<text class="cap" x="415.6" y="349.8" textLength="40.3" lengthAdjust="spacingAndGlyphs">50&#8239;MHz;</text>
<text class="cap" x="458.6" y="349.8" textLength="28.6" lengthAdjust="spacingAndGlyphs">FPGA</text>
<text class="cap" x="489.8" y="349.8" textLength="22.9" lengthAdjust="spacingAndGlyphs">field</text>
<text class="cap" x="515.4" y="349.8" textLength="78.6" lengthAdjust="spacingAndGlyphs">programmable</text>
<text class="cap" x="596.7" y="349.8" textLength="23.5" lengthAdjust="spacingAndGlyphs">gate</text>
<text class="cap" x="622.9" y="349.8" textLength="28.8" lengthAdjust="spacingAndGlyphs">array,</text>
<text class="cap" x="654.3" y="349.8" textLength="20.1" lengthAdjust="spacingAndGlyphs">ATT</text>
<text class="cap" x="677.1" y="349.8" textLength="58.3" lengthAdjust="spacingAndGlyphs">attenuator,</text>
<text class="cap" x="738.1" y="349.8" textLength="13.9" lengthAdjust="spacingAndGlyphs">PC</text>
<text class="cap" x="27.0" y="365.8" textLength="60.6" lengthAdjust="spacingAndGlyphs">polarization</text>
<text class="cap" x="90.2" y="365.8" textLength="51.9" lengthAdjust="spacingAndGlyphs">controller,</text>
<text class="cap" x="144.7" y="365.8" textLength="15.1" lengthAdjust="spacingAndGlyphs">ILP</text>
<text class="cap" x="162.4" y="365.8" textLength="31.9" lengthAdjust="spacingAndGlyphs">in-line</text>
<text class="cap" x="196.9" y="365.8" textLength="47.0" lengthAdjust="spacingAndGlyphs">polarizer,</text>
<text class="cap" x="246.5" y="365.8" textLength="16.5" lengthAdjust="spacingAndGlyphs">CIR</text>
<text class="cap" x="265.6" y="365.8" textLength="34.7" lengthAdjust="spacingAndGlyphs">optical</text>
<text class="cap" x="302.8" y="365.8" textLength="50.4" lengthAdjust="spacingAndGlyphs">circulator,</text>
<text class="cap" x="355.8" y="365.8" textLength="19.1" lengthAdjust="spacingAndGlyphs">PBS</text>
<text class="cap" x="377.5" y="365.8" textLength="60.6" lengthAdjust="spacingAndGlyphs">polarization</text>
<text class="cap" x="440.7" y="365.8" textLength="29.0" lengthAdjust="spacingAndGlyphs">beam</text>
<text class="cap" x="472.3" y="365.8" textLength="38.1" lengthAdjust="spacingAndGlyphs">splitter,</text>
<text class="cap" x="513.0" y="365.8" textLength="13.0" lengthAdjust="spacingAndGlyphs">FC</text>
<text class="cap" x="528.6" y="365.8" textLength="27.5" lengthAdjust="spacingAndGlyphs">90:10</text>
<text class="cap" x="558.7" y="365.8" textLength="23.4" lengthAdjust="spacingAndGlyphs">filter</text>
<text class="cap" x="584.6" y="365.8" textLength="41.2" lengthAdjust="spacingAndGlyphs">coupler,</text>
<text class="cap" x="628.5" y="365.8" textLength="29.3" lengthAdjust="spacingAndGlyphs">PMFC</text>
<text class="cap" x="660.3" y="365.8" textLength="60.6" lengthAdjust="spacingAndGlyphs">polarization</text>
<text class="cap" x="723.5" y="365.8" textLength="61.5" lengthAdjust="spacingAndGlyphs">maintaining</text>
<text class="cap" x="27.0" y="381.8" textLength="24.2" lengthAdjust="spacingAndGlyphs">filter</text>
<text class="cap" x="53.8" y="381.8" textLength="42.6" lengthAdjust="spacingAndGlyphs">coupler,</text>
<text class="cap" x="99.2" y="381.8" textLength="16.8" lengthAdjust="spacingAndGlyphs">PM</text>
<text class="cap" x="118.6" y="381.8" textLength="31.5" lengthAdjust="spacingAndGlyphs">phase</text>
<text class="cap" x="152.8" y="381.8" textLength="58.3" lengthAdjust="spacingAndGlyphs">modulator,</text>
<text class="cap" x="213.7" y="381.8" textLength="13.1" lengthAdjust="spacingAndGlyphs">IM</text>
<text class="cap" x="229.5" y="381.8" textLength="45.4" lengthAdjust="spacingAndGlyphs">intensity</text>
<text class="cap" x="277.6" y="381.8" textLength="55.7" lengthAdjust="spacingAndGlyphs">modulator</text>
<text class="cap" x="336.0" y="381.8" textLength="23.4" lengthAdjust="spacingAndGlyphs">with</text>
<text class="cap" x="362.0" y="381.8" textLength="52.9" lengthAdjust="spacingAndGlyphs">extinction</text>
<text class="cap" x="417.5" y="381.8" textLength="24.2" lengthAdjust="spacingAndGlyphs">ratio</text>
<text class="cap" x="444.4" y="381.8" textLength="10.6" lengthAdjust="spacingAndGlyphs">of</text>
<text class="cap" x="457.6" y="381.8" textLength="22.0" lengthAdjust="spacingAndGlyphs">45.1</text>
<text class="cap" x="482.3" y="381.8" textLength="16.5" lengthAdjust="spacingAndGlyphs">dB,</text>
<text class="cap" x="501.5" y="381.8" textLength="17.9" lengthAdjust="spacingAndGlyphs">ISO</text>
<text class="cap" x="522.0" y="381.8" textLength="41.7" lengthAdjust="spacingAndGlyphs">isolator,</text>
<text class="cap" x="566.4" y="381.8" textLength="12.9" lengthAdjust="spacingAndGlyphs">FR</text>
<text class="cap" x="581.9" y="381.8" textLength="12.9" lengthAdjust="spacingAndGlyphs">90</text>
<text class="cap" x="597.5" y="381.8" textLength="37.2" lengthAdjust="spacingAndGlyphs">degree</text>
<text class="cap" x="637.4" y="381.8" textLength="41.5" lengthAdjust="spacingAndGlyphs">Faraday</text>
<text class="cap" x="681.5" y="381.8" textLength="39.1" lengthAdjust="spacingAndGlyphs">rotator,</text>
<text class="cap" x="723.2" y="381.8" textLength="21.3" lengthAdjust="spacingAndGlyphs">SPD</text>
<text class="cap" x="27.0" y="397.8" textLength="89.5" lengthAdjust="spacingAndGlyphs">superconducting</text>
<text class="cap" x="119.2" y="397.8" textLength="49.4" lengthAdjust="spacingAndGlyphs">nanowire</text>
<text class="cap" x="171.2" y="397.8" textLength="73.9" lengthAdjust="spacingAndGlyphs">single-photon</text>
<text class="cap" x="247.8" y="397.8" textLength="44.5" lengthAdjust="spacingAndGlyphs">detector</text>
<text class="cap" x="295.0" y="397.8" textLength="23.3" lengthAdjust="spacingAndGlyphs">with</text>
<text class="cap" x="321.0" y="397.8" textLength="23.3" lengthAdjust="spacingAndGlyphs">over</text>
<text class="cap" x="346.9" y="397.8" textLength="22.8" lengthAdjust="spacingAndGlyphs">85%</text>
<text class="cap" x="372.4" y="397.8" textLength="50.3" lengthAdjust="spacingAndGlyphs">detection</text>
<text class="cap" x="425.4" y="397.8" textLength="52.5" lengthAdjust="spacingAndGlyphs">efficiency,</text>
<text class="cap" x="480.5" y="397.8" textLength="27.7" lengthAdjust="spacingAndGlyphs">50&#8239;Hz</text>
<text class="cap" x="510.8" y="397.8" textLength="23.1" lengthAdjust="spacingAndGlyphs">dark</text>
<text class="cap" x="536.6" y="397.8" textLength="30.5" lengthAdjust="spacingAndGlyphs">count</text>
<text class="cap" x="569.7" y="397.8" textLength="20.6" lengthAdjust="spacingAndGlyphs">rate</text>
<text class="cap" x="593.0" y="397.8" textLength="20.1" lengthAdjust="spacingAndGlyphs">and</text>
<text class="cap" x="615.7" y="397.8" textLength="26.0" lengthAdjust="spacingAndGlyphs">15&#8239;ns</text>
<text class="cap" x="644.4" y="397.8" textLength="25.8" lengthAdjust="spacingAndGlyphs">reset</text>
<text class="cap" x="672.9" y="397.8" textLength="26.4" lengthAdjust="spacingAndGlyphs">time.</text>
<text class="cap" x="701.9" y="397.8" textLength="19.5" lengthAdjust="spacingAndGlyphs">The</text>
<text class="cap" x="724.1" y="397.8" textLength="60.9" lengthAdjust="spacingAndGlyphs">asymmetric</text>
<text class="cap" x="27.0" y="413.8" textLength="78.0" lengthAdjust="spacingAndGlyphs">Mach-Zehnder</text>
<text class="cap" x="107.7" y="413.8" textLength="77.5" lengthAdjust="spacingAndGlyphs">interferometer</text>
<text class="cap" x="187.9" y="413.8" textLength="41.9" lengthAdjust="spacingAndGlyphs">consists</text>
<text class="cap" x="232.5" y="413.8" textLength="10.7" lengthAdjust="spacingAndGlyphs">of</text>
<text class="cap" x="245.9" y="413.8" textLength="20.5" lengthAdjust="spacingAndGlyphs">two</text>
<text class="cap" x="269.1" y="413.8" textLength="33.1" lengthAdjust="spacingAndGlyphs">PMFC,</text>
<text class="cap" x="304.8" y="413.8" textLength="20.3" lengthAdjust="spacingAndGlyphs">and</text>
<text class="cap" x="327.8" y="413.8" textLength="17.6" lengthAdjust="spacingAndGlyphs">the</text>
<text class="cap" x="348.1" y="413.8" textLength="28.6" lengthAdjust="spacingAndGlyphs">delay</text>
<text class="cap" x="379.4" y="413.8" textLength="34.7" lengthAdjust="spacingAndGlyphs">length</text>
<text class="cap" x="416.8" y="413.8" textLength="8.0" lengthAdjust="spacingAndGlyphs">is</text>
<text class="cap" x="427.5" y="413.8" textLength="31.5" lengthAdjust="spacingAndGlyphs">about</text>
<text class="cap" x="461.6" y="413.8" textLength="18.4" lengthAdjust="spacingAndGlyphs">2&#8239;m</text>
</g>
</svg>
</body>
</html>
